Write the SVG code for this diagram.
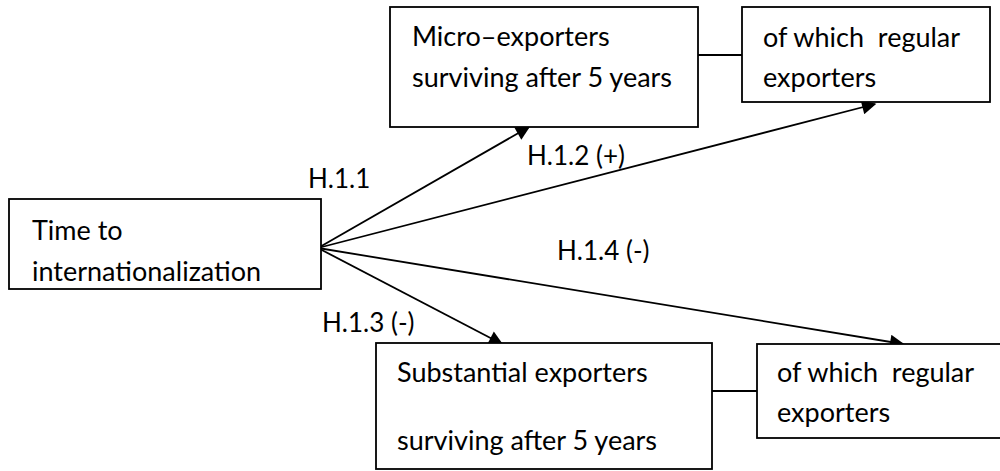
<svg xmlns="http://www.w3.org/2000/svg" width="1000" height="471" viewBox="0 0 1000 471">
<style>
  .box { fill: #ffffff; stroke: #000000; stroke-width: 1.8; }
  .txt { font-family: Lato, "Liberation Sans", sans-serif; font-size: 27px; fill: #000000; }
  .lbl { font-family: Lato, "Liberation Sans", sans-serif; font-size: 26px; fill: #000000; }
  .con { stroke: #000000; stroke-width: 1.8; fill: none; }
  .arr { stroke: #000000; stroke-width: 1.8; fill: none; marker-end: url(#ah); }
</style>
<defs>
  <marker id="ah" viewBox="0 0 10 10" refX="9" refY="5" markerWidth="9" markerHeight="8" markerUnits="strokeWidth" orient="auto">
    <path d="M0,0 L10,5 L0,10 Z" fill="#000000"/>
  </marker>
  <clipPath id="c13"><rect x="300" y="300" width="120" height="36"/></clipPath>
  <clipPath id="c14"><rect x="540" y="230" width="120" height="33"/></clipPath>
</defs>
<g id="connectors">
  <line class="arr" x1="318" y1="248" x2="529" y2="127"/>
  <line class="arr" x1="318" y1="248" x2="875" y2="104"/>
  <line class="arr" x1="318" y1="248" x2="903" y2="344"/>
  <line class="arr" x1="318" y1="248" x2="502" y2="344"/>
  <line class="con" x1="698" y1="55" x2="742" y2="55"/>
  <line class="con" x1="712" y1="391" x2="757" y2="391"/>
</g>
<g id="time-to-internationalization">
  <rect class="box" x="9" y="199" width="312" height="90"/>
  <text class="txt" x="32" y="240">Time to</text>
  <text class="txt" x="32" y="281">internationalization</text>
</g>
<g id="micro-exporters">
  <rect class="box" x="390" y="7" width="308" height="120"/>
  <text class="txt" x="412" y="46">Micro–exporters</text>
  <text class="txt" x="412" y="87">surviving after 5 years</text>
</g>
<g id="regular-top">
  <rect class="box" x="742" y="7" width="248" height="95"/>
  <text class="txt" x="763" y="47" xml:space="preserve">of which  regular</text>
  <text class="txt" x="763" y="87">exporters</text>
</g>
<g id="substantial-exporters">
  <rect class="box" x="376" y="343" width="336" height="126"/>
  <text class="txt" x="397" y="382">Substantial exporters</text>
  <text class="txt" x="397" y="450">surviving after 5 years</text>
</g>
<g id="regular-bottom">
  <rect class="box" x="757" y="344" width="250" height="94"/>
  <text class="txt" x="777" y="382" xml:space="preserve">of which  regular</text>
  <text class="txt" x="777" y="422">exporters</text>
</g>
<g id="labels">
  <text class="lbl" x="308" y="188">H.1.1</text>
  <text class="lbl" x="527" y="165">H.1.2 (+)</text>
  <text class="lbl" x="557" y="260" clip-path="url(#c14)">H.1.4 (-)</text>
  <text class="lbl" x="322" y="332" clip-path="url(#c13)">H.1.3 (-)</text>
</g>
</svg>
